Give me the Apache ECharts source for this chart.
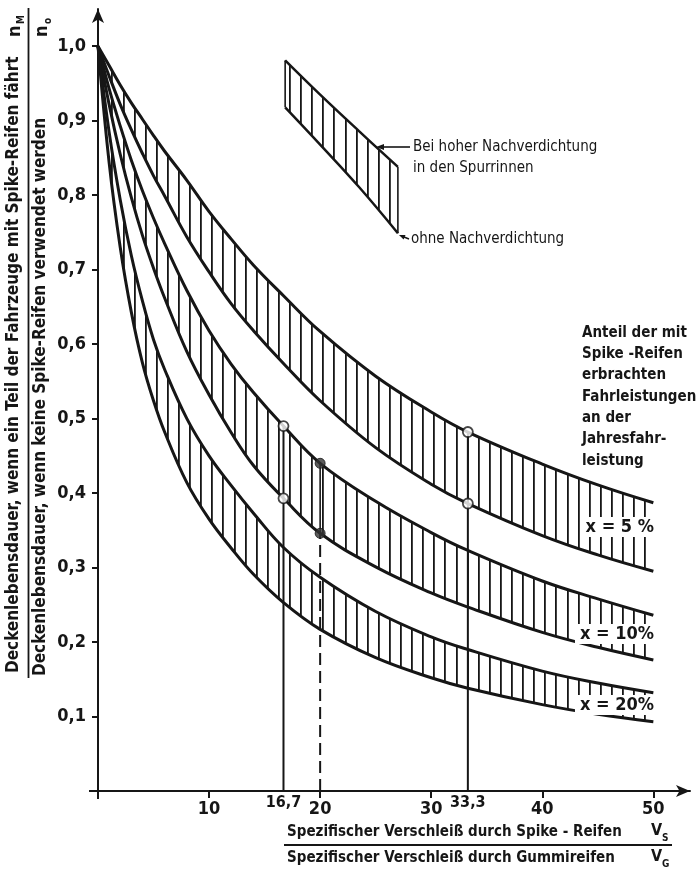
<!DOCTYPE html>
<html><head><meta charset="utf-8">
<script src="https://cdn.jsdelivr.net/npm/echarts@6/dist/echarts.min.js"></script>
<style>html,body{margin:0;padding:0;background:#fff}#c{width:696px;height:871px}</style>
</head><body><div id="c"></div>
<script>
// ---- data ----
const xs      = [0, 1, 2, 3, 4, 5, 6, 8, 10, 12, 14, 16.7, 20, 25, 30, 33.3, 40, 45, 50];
const upper5  = [1.0, 0.974, 0.948, 0.924, 0.902, 0.88, 0.859, 0.82, 0.778, 0.741, 0.706, 0.665, 0.617, 0.557, 0.509, 0.482, 0.439, 0.411, 0.387];
const lower5  = [1.0, 0.96, 0.922, 0.888, 0.856, 0.826, 0.799, 0.744, 0.697, 0.654, 0.618, 0.574, 0.524, 0.461, 0.412, 0.386, 0.343, 0.317, 0.295];
const upper10 = [1.0, 0.943, 0.893, 0.847, 0.806, 0.769, 0.735, 0.672, 0.618, 0.573, 0.535, 0.49, 0.44, 0.389, 0.347, 0.323, 0.282, 0.258, 0.236];
const lower10 = [1.0, 0.922, 0.855, 0.797, 0.746, 0.702, 0.662, 0.59, 0.532, 0.481, 0.437, 0.393, 0.346, 0.301, 0.266, 0.247, 0.213, 0.193, 0.176];
const upper20 = [1.0, 0.885, 0.794, 0.719, 0.658, 0.606, 0.566, 0.5, 0.45, 0.41, 0.373, 0.327, 0.287, 0.241, 0.207, 0.19, 0.161, 0.145, 0.132];
const lower20 = [1.0, 0.844, 0.73, 0.643, 0.575, 0.524, 0.482, 0.414, 0.365, 0.326, 0.291, 0.253, 0.217, 0.179, 0.152, 0.138, 0.116, 0.103, 0.093];
const topX     = [16.85, 20, 23.5, 27];
const topUpper = [0.981, 0.935, 0.886, 0.838];
const topLower = [0.918, 0.868, 0.811, 0.749];
const markX    = [16.7, 20, 33.3];
const markHigh = [0.49, 0.44, 0.482];
const markLow  = [0.393, 0.346, 0.386];
const xTickValues = [10, 20, 30, 40, 50];
const xSpecialLabels = ['16,7', '33,3'];
const yTickValues = [0.1, 0.2, 0.3, 0.4, 0.5, 0.6, 0.7, 0.8, 0.9, 1.0];
const bandLabels = ['x = 5 %', 'x = 10%', 'x = 20%'];
const sideNote = ['Anteil der mit', 'Spike -Reifen', 'erbrachten', 'Fahrleistungen', 'an der', 'Jahresfahr-', 'leistung'];

const FONT = "'DejaVu Sans Condensed', 'DejaVu Sans', sans-serif";
const NARROW = "'Liberation Sans Narrow', 'DejaVu Sans Condensed', sans-serif";
const INK = '#161616';
const SMOOTH = 0.4;

function hatchPattern() {
  const c = document.createElement('canvas');
  c.width = 111; c.height = 8;
  const g = c.getContext('2d');
  g.fillStyle = INK;
  for (let i = 0; i < 10; i++) {
    const x = Math.round(i * 11.1 + 0.4);
    g.fillRect(x, 0, 1.8, 8);
  }
  return { image: c, repeat: 'repeat' };
}
const HATCH = hatchPattern();
const pairs = (xa, ya) => xa.map((x, i) => [x, ya[i]]);

function area(data, fill, z) {
  return { type: 'line', data, smooth: SMOOTH, symbol: 'none', silent: true,
    lineStyle: { width: 0, opacity: 0 }, areaStyle: { color: fill, opacity: 1, origin: 'start' }, z };
}
function curve(data, w, z, type) {
  return { type: 'line', data, smooth: SMOOTH, symbol: 'none', silent: true,
    lineStyle: { color: INK, width: w, type: type || 'solid' }, z };
}
function seg(data, w, z, type) {
  return { type: 'line', data, smooth: false, symbol: 'none', silent: true,
    lineStyle: { color: INK, width: w, type: type || 'solid' }, z };
}

const series = [
  area(pairs(topX, topUpper), HATCH, 1),
  area(pairs(topX, topLower), '#fff', 2),
  area(pairs(xs, upper5), HATCH, 3),
  area(pairs(xs, lower5), '#fff', 4),
  area(pairs(xs, upper10), HATCH, 5),
  area(pairs(xs, lower10), '#fff', 6),
  area(pairs(xs, upper20), HATCH, 7),
  area(pairs(xs, lower20), '#fff', 8),
  curve(pairs(xs, upper5), 3, 12), curve(pairs(xs, lower5), 3, 12),
  curve(pairs(xs, upper10), 3, 12), curve(pairs(xs, lower10), 3, 12),
  curve(pairs(xs, upper20), 3, 12), curve(pairs(xs, lower20), 3, 12),
  curve(pairs(topX, topUpper), 2.5, 12), curve(pairs(topX, topLower), 2.5, 12),
  seg([[topX[0], topLower[0]], [topX[0], topUpper[0]]], 1.6, 12),
  seg([[topX[topX.length - 1], topLower[topLower.length - 1]], [topX[topX.length - 1], topUpper[topUpper.length - 1]]], 1.6, 12),
  // reference verticals
  seg([[markX[0], 0], [markX[0], markHigh[0]]], 2, 13),
  seg([[markX[2], 0], [markX[2], markHigh[2]]], 2, 13),
  seg([[markX[1], 0], [markX[1], markLow[1]]], 2, 13, [12, 6]),
  seg([[markX[1], markLow[1]], [markX[1], markHigh[1]]], 1.6, 13),
  { type: 'scatter', symbol: 'circle', symbolSize: 10, silent: true, z: 15,
    itemStyle: { color: '#fff', borderColor: INK, borderWidth: 1.8 },
    data: [[markX[0], markHigh[0]], [markX[0], markLow[0]], [markX[2], markHigh[2]], [markX[2], markLow[2]]] },
  { type: 'scatter', symbol: 'circle', symbolSize: 10, silent: true, z: 15,
    itemStyle: { color: '#333', borderColor: INK, borderWidth: 1 },
    data: [[markX[1], markHigh[1]], [markX[1], markLow[1]]] }
];

const chart = echarts.init(document.getElementById('c'), null, { renderer: 'canvas' });
chart.setOption({
  animation: false,
  backgroundColor: '#fff',
  grid: { left: 98, right: 6, top: 9, bottom: 80, containLabel: false },
  xAxis: {
    type: 'value', min: 0, max: 53.3, z: 10,
    splitLine: { show: false },
    axisLine: { show: true, symbol: ['none', 'arrow'], symbolSize: [9, 14], lineStyle: { color: INK, width: 2 } },
    axisTick: { show: true, customValues: xTickValues, length: 7, lineStyle: { color: INK, width: 2 } },
    axisLabel: { customValues: xTickValues, margin: 9, fontSize: 18, fontWeight: 'bold', fontFamily: NARROW, color: INK }
  },
  yAxis: {
    type: 'value', min: 0, max: 1.05, z: 10,
    splitLine: { show: false },
    axisLine: { show: true, symbol: ['none', 'arrow'], symbolSize: [9, 14], lineStyle: { color: INK, width: 2 } },
    axisTick: { show: true, customValues: yTickValues, length: 6, lineStyle: { color: INK, width: 2 } },
    axisLabel: { customValues: yTickValues, margin: 12, fontSize: 18, fontWeight: 'bold', fontFamily: NARROW, color: INK,
      formatter: v => v.toFixed(1).replace('.', ',') }
  },
  series
});

// ---- annotations ----
const px = (x, y) => chart.convertToPixel({ gridIndex: 0 }, [x, y]);
const o = px(0, 0);
const g = [];
const txt = (x, y, text, opt) => g.push(Object.assign({ type: 'text', x, y, z: 20, silent: true,
  style: Object.assign({ text, fill: INK, font: '15px ' + FONT, textAlign: 'left', textVerticalAlign: 'middle' }, opt && opt.style) },
  opt && opt.el));
const line = (x1, y1, x2, y2, w) => g.push({ type: 'line', z: 20, silent: true, shape: { x1, y1, x2, y2 }, style: { stroke: INK, lineWidth: w || 1.6 } });
const head = (x, y, dx, dy, len, wid) => {
  const n = Math.hypot(dx, dy), ux = dx / n, uy = dy / n;
  g.push({ type: 'polygon', z: 20, silent: true, shape: { points: [[x, y], [x - ux * len - uy * wid, y - uy * len + ux * wid], [x - ux * len + uy * wid, y - uy * len - ux * wid]] }, style: { fill: INK } });
};

// origin cross extensions
line(o[0] - 9, o[1], o[0], o[1], 2);
line(o[0], o[1], o[0], o[1] + 8, 2);

// special x labels
[markX[0], markX[2]].forEach((v, i) => {
  const p = px(v, 0);
  txt(p[0], p[1] + 12, xSpecialLabels[i], { style: { font: 'bold 16px ' + NARROW, textAlign: 'center' } });
});

// y-axis title (fraction, rotated)
const rot = Math.PI / 2;
txt(14, 673, 'Deckenlebensdauer, wenn ein Teil der Fahrzeuge mit Spike-Reifen fährt', { el: { rotation: rot }, style: { font: '600 17px ' + FONT } });
txt(15, 37, 'n', { el: { rotation: rot }, style: { font: '600 18px ' + FONT } });
txt(21, 24, 'M', { el: { rotation: rot }, style: { font: '600 10px ' + FONT } });
line(28.5, 8, 28.5, 678, 1.8);
txt(41, 676, 'Deckenlebensdauer, wenn keine Spike-Reifen verwendet werden', { el: { rotation: rot }, style: { font: '600 17px ' + FONT } });
txt(42, 37, 'n', { el: { rotation: rot }, style: { font: '600 18px ' + FONT } });
txt(48, 24, 'o', { el: { rotation: rot }, style: { font: '600 10px ' + FONT } });

// x-axis title (fraction)
txt(287, 832, 'Spezifischer Verschleiß durch Spike - Reifen', { style: { font: '600 15px ' + FONT } });
txt(651, 831, 'V', { style: { font: '600 16px ' + FONT } });
txt(662, 838, 'S', { style: { font: '600 10px ' + FONT } });
line(284, 845, 672, 845, 1.8);
txt(287, 858, 'Spezifischer Verschleiß durch Gummireifen', { style: { font: '600 15px ' + FONT } });
txt(651, 857, 'V', { style: { font: '600 16px ' + FONT } });
txt(662, 864, 'G', { style: { font: '600 10px ' + FONT } });

// side note
sideNote.forEach((s, i) => txt(582, 333 + i * 21.3, s, { style: { font: 'bold 15px ' + FONT } }));

// band labels
const bandY = [527, 634, 705];
bandLabels.forEach((s, i) => txt(655, bandY[i], s, { style: { font: 'bold 18px ' + FONT, textAlign: 'right', backgroundColor: '#fff', padding: [1, 1, 1, 5] } }));

// top band notes
txt(413, 147, 'Bei hoher Nachverdichtung', { style: { font: '15px ' + FONT } });
txt(413, 168, 'in den Spurrinnen', { style: { font: '15px ' + FONT } });
txt(411, 239, 'ohne Nachverdichtung', { style: { font: '15px ' + FONT } });
line(410, 147, 382, 147, 1.6);
head(376, 147, -1, 0, 8, 3);
line(409, 239, 404, 237, 1.4);
head(399, 235, -1, -0.4, 6, 2.5);

chart.setOption({ graphic: g });
</script>
</body></html>
